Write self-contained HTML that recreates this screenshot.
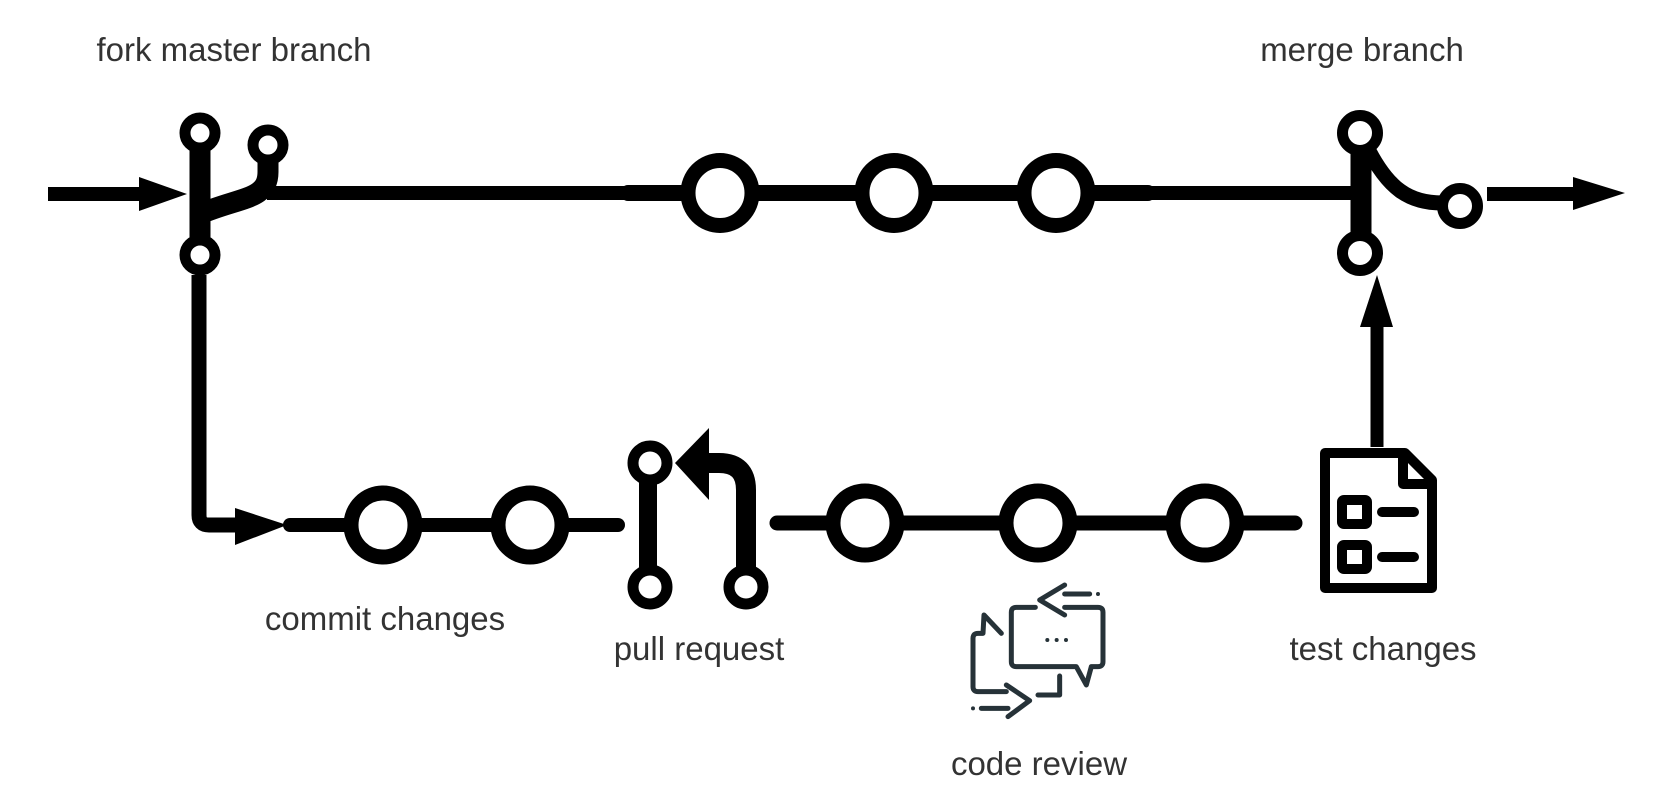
<!DOCTYPE html>
<html><head><meta charset="utf-8"><style>
html,body{margin:0;padding:0;background:#fff;}
svg{display:block;}
text{font-family:"Liberation Sans",sans-serif;font-size:33px;fill:#333;text-anchor:middle;}
</style></head><body>
<svg width="1666" height="806" viewBox="0 0 1666 806" xmlns="http://www.w3.org/2000/svg">
<rect width="1666" height="806" fill="#fff"/>
<text x="234" y="61">fork master branch</text>
<text x="1362" y="61">merge branch</text>
<text x="385" y="630">commit changes</text>
<text x="699" y="660">pull request</text>
<text x="1383" y="660">test changes</text>
<text x="1039" y="775">code review</text>

<g stroke="#000" fill="none">
  <line x1="48" y1="194" x2="145" y2="194" stroke-width="14"/>
  <line x1="267" y1="193" x2="1352" y2="193" stroke-width="14"/>
  <line x1="628" y1="193" x2="1148" y2="193" stroke-width="16" stroke-linecap="round"/>
  <line x1="1487" y1="194" x2="1580" y2="194" stroke-width="14"/>
  <line x1="200" y1="145" x2="200" y2="243" stroke-width="21"/>
  <path d="M268,155 L268,172 C268,200 240,197 200,214" stroke-width="21"/>
  <circle cx="200" cy="133" r="15" stroke-width="11" fill="#fff"/>
  <circle cx="268" cy="145" r="15" stroke-width="11" fill="#fff"/>
  <circle cx="200" cy="255" r="15" stroke-width="11" fill="#fff"/>
  <ellipse cx="720" cy="193" rx="32" ry="32.5" stroke-width="15" fill="#fff"/>
  <ellipse cx="894" cy="193" rx="32" ry="32.5" stroke-width="15" fill="#fff"/>
  <ellipse cx="1056" cy="193" rx="32" ry="32.5" stroke-width="15" fill="#fff"/>
  <line x1="1361" y1="140" x2="1361" y2="245" stroke-width="21"/>
  <path d="M1366,145 C1388,190 1410,203 1442,203" stroke-width="15"/>
  <circle cx="1360" cy="133" r="17.5" stroke-width="11" fill="#fff"/>
  <circle cx="1360" cy="253" r="17.5" stroke-width="11" fill="#fff"/>
  <circle cx="1460" cy="206" r="17.5" stroke-width="11" fill="#fff"/>
  <line x1="1377" y1="447" x2="1377" y2="322" stroke-width="13"/>
  <path d="M199,275 L199,515 Q199,525 209,525 L240,525" stroke-width="15"/>
  <line x1="290" y1="525" x2="618" y2="525" stroke-width="14" stroke-linecap="round"/>
  <line x1="777" y1="523" x2="1295" y2="523" stroke-width="15" stroke-linecap="round"/>
  <ellipse cx="383" cy="525" rx="32" ry="32" stroke-width="15" fill="#fff"/>
  <ellipse cx="530" cy="525" rx="32" ry="32" stroke-width="15" fill="#fff"/>
  <ellipse cx="865" cy="523" rx="32" ry="32" stroke-width="15" fill="#fff"/>
  <ellipse cx="1038" cy="523" rx="32" ry="32" stroke-width="15" fill="#fff"/>
  <ellipse cx="1205" cy="523" rx="32" ry="32" stroke-width="15" fill="#fff"/>
  <line x1="648" y1="470" x2="648" y2="580" stroke-width="18"/>
  <path d="M746,580 L746,490 Q746,463 719,463 L700,463" stroke-width="20"/>
  <circle cx="650" cy="463" r="17" stroke-width="11" fill="#fff"/>
  <circle cx="650" cy="587" r="17" stroke-width="11" fill="#fff"/>
  <circle cx="746" cy="587" r="17" stroke-width="11" fill="#fff"/>
  <path d="M1325,453 L1405,453 L1432,480 L1432,588 L1325,588 Z" stroke-width="10" stroke-linejoin="round" fill="#fff"/>
  <path d="M1403,455 L1403,484 L1430,484" stroke-width="10" stroke-linejoin="round"/>
  <rect x="1342" y="500" width="25" height="24" stroke-width="10" rx="2"/>
  <rect x="1342" y="545" width="25" height="24" stroke-width="10" rx="2"/>
  <line x1="1382" y1="512" x2="1414" y2="512" stroke-width="10" stroke-linecap="round"/>
  <line x1="1382" y1="557" x2="1414" y2="557" stroke-width="10" stroke-linecap="round"/>
</g>
<g fill="#000">
  <polygon points="139,177 187,194 139,211"/>
  <polygon points="1573,177 1625,193 1573,210"/>
  <polygon points="1360,327 1393,327 1377,275"/>
  <polygon points="235,508 287,525 235,545"/>
  <polygon points="709,428 709,500 675,463"/>
</g>
<g transform="translate(958,570) scale(0.3333)" stroke="#263238" stroke-width="15" fill="none" stroke-linecap="round" stroke-linejoin="round">
  <path d="M232,112 L175,112 Q160,112 160,127 L160,275 Q160,290 175,290 L355,290 L385,345 L400,290 L420,290 Q435,290 435,275 L435,127 Q435,112 420,112 L320,112"/>
  <path d="M320,45 L245,90 L320,135"/>
  <line x1="320" y1="72" x2="395" y2="72"/>
  <circle cx="420" cy="72" r="6" fill="#263238" stroke="none"/>
  <circle cx="268" cy="210" r="6" fill="#263238" stroke="none"/>
  <circle cx="296" cy="210" r="6" fill="#263238" stroke="none"/>
  <circle cx="324" cy="210" r="6" fill="#263238" stroke="none"/>
  <path d="M130,190 L78,135 L75,190 L60,190 Q45,190 45,205 L45,350 Q45,365 60,365 L145,365"/>
  <path d="M145,345 L215,392 L150,440"/>
  <line x1="150" y1="415" x2="70" y2="415"/>
  <circle cx="45" cy="415" r="6" fill="#263238" stroke="none"/>
  <path d="M240,375 L305,375 L305,318"/>
</g>
</svg>
</body></html>
